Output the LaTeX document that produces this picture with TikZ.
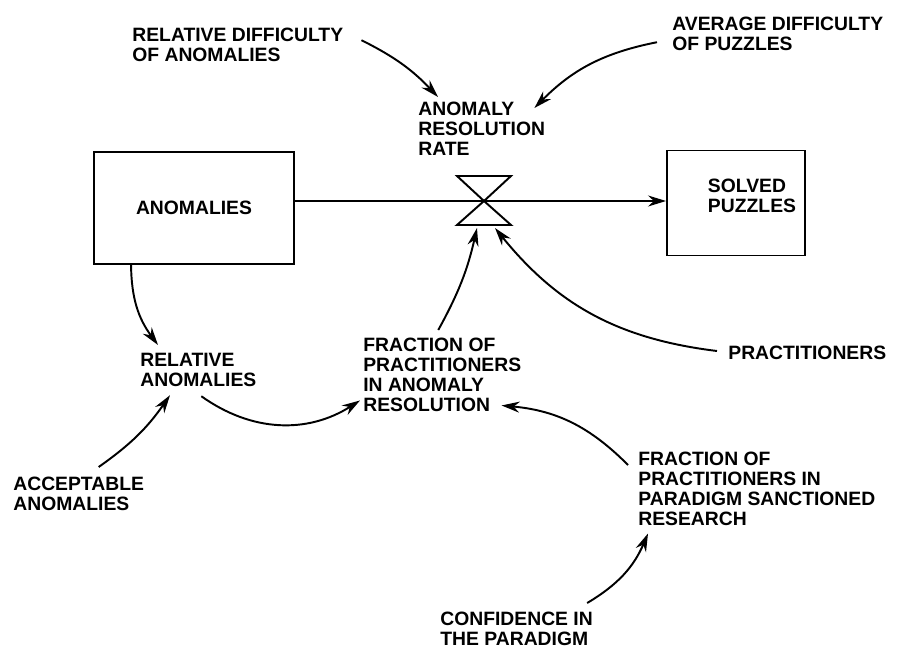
\documentclass[tikz,border=0pt]{standalone}
\usepackage{fontspec}
\setmainfont{Liberation Sans}
\usetikzlibrary{arrows.meta}

\begin{document}
\begin{tikzpicture}[x=0.02cm,y=0.02cm,
    lbl/.style={inner sep=0pt, align=left, anchor=north west, font=\fontsize{11}{11.4}\selectfont\bfseries},
    stock/.style={draw, line width=1.1pt, align=center, font=\fontsize{11}{11.4}\selectfont\bfseries},
    link/.style={-{Stealth[length=0.36cm,width=0.22cm]}, line width=1.1pt}]
    \useasboundingbox (0,0) rectangle (898,650);
    \node[stock, minimum width=4cm, minimum height=2.24cm] (anom) at (194,442) {ANOMALIES};
    \node[stock, minimum width=2.76cm, minimum height=2.1cm] (solved) at (736,447) {};
    \node[lbl, anchor=center] (solvedtxt) at (752,454) {SOLVED\\PUZZLES};
    \coordinate (valve) at (484,449);
    \node[lbl] (rdiff) at (132,622) {RELATIVE DIFFICULTY\\OF ANOMALIES};
    \node[lbl] (avg) at (672,633) {AVERAGE DIFFICULTY\\OF PUZZLES};
    \node[lbl] (rate) at (418,548) {ANOMALY\\RESOLUTION\\RATE};
    \node[lbl] (relanom) at (140,297) {RELATIVE\\ANOMALIES};
    \node[lbl] (accept) at (13,173) {ACCEPTABLE\\ANOMALIES};
    \node[lbl] (fracAR) at (363,312) {FRACTION OF\\PRACTITIONERS\\IN ANOMALY\\RESOLUTION};
    \node[lbl, anchor=west] (pract) at (728,297) {PRACTITIONERS};
    \node[lbl] (fracPS) at (638,198) {FRACTION OF\\PRACTITIONERS IN\\PARADIGM SANCTIONED\\RESEARCH};
    \node[lbl] (conf) at (440,38) {CONFIDENCE IN\\THE PARADIGM};
    \draw[link] (anom.east |- valve) -- (solved.west |- valve);
    \draw[line width=1.1pt] (valve) -- ++(-27,25) -- ++(54,0) -- cycle;
    \draw[line width=1.1pt] (valve) -- ++(-27,-24) -- ++(54,0) -- cycle;
    \draw[link] ([shift={(18,5)}]rdiff.east) to[bend left=10] ([shift={(20,5)}]rate.north west);
    \draw[link] ([shift={(-15,-8)}]avg.west) to[bend right=17] ([shift={(-11,-6)}]rate.north east);
    \draw[link] ([shift={(38,0)}]anom.south west) to[bend right=18] ([shift={(18,8)}]relanom.north west);
    \draw[link] ([shift={(20,10)}]accept.north) to[bend right=10] ([shift={(30,-8)}]relanom.south west);
    \draw[link] ([shift={(3,-9)}]relanom.south) to[bend right=34] ([shift={(-3,12)}]fracAR.south west);
    \draw[link] ([shift={(-4,8)}]fracAR.north) to[bend right=8] ([shift={(-7,-27)}]valve);
    \draw[link] ([shift={(-11,2)}]pract.west) to[bend left=22] ([shift={(11,-27)}]valve);
    \draw[link] ([shift={(-10,-13)}]fracPS.north west) to[bend right=20] ([shift={(-20,7)}]fracAR.south east);
    \draw[link] ([shift={(-6,9)}]conf.north east) to[bend right=18] ([shift={(10,-7)}]fracPS.south west);
\end{tikzpicture}
\end{document}
